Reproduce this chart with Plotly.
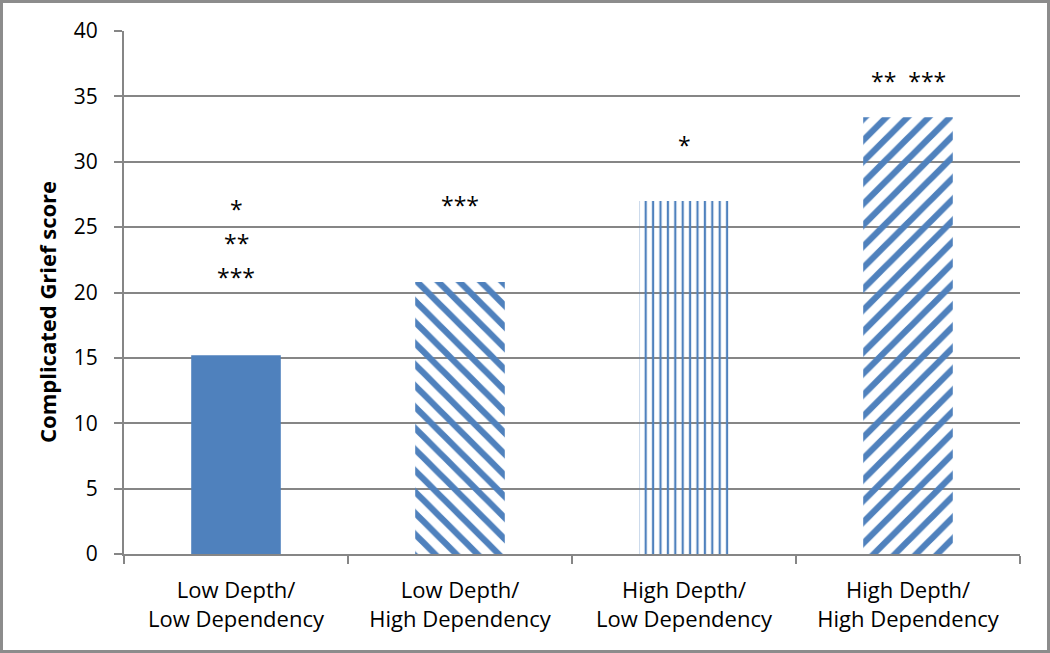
import plotly.graph_objects as go

categories = ["Low Depth/<br>Low Dependency", "Low Depth/<br>High Dependency",
              "High Depth/<br>Low Dependency", "High Depth/<br>High Dependency"]
values = [15.2, 20.8, 27.0, 33.4]
patterns = ["", "\\", "|", "/"]
sig_labels = [["*", "**", "***"], ["***"], ["*"], ["**  ***"]]
sig_y = [[26.4, 23.8, 21.2], [26.7], [31.3], [36.2]]
y_ticks = [0, 5, 10, 15, 20, 25, 30, 35, 40]
y_title = "Complicated Grief score"

BLUE = "#4F81BD"
GRAY = "#868686"
FONT = "'Open Sans', sans-serif"

n = len(categories)
fig = go.Figure()
fig.add_trace(go.Bar(
    x=categories, y=values, width=0.4,
    marker=dict(
        color=[BLUE] * n,
        line=dict(width=0),
        pattern=dict(shape=patterns, fgcolor=[BLUE] * n, bgcolor=["white"] * n,
                     fgopacity=1,
                     size=[8, 15, 7.4, 15], solidity=[0.5, 0.42, 0.3, 0.42],
                     fillmode="replace"),
    ),
    showlegend=False,
))

pw, ph = 896, 523
ml, mr, mt, mb = 124, 30, 31, 99

annotations = []
for cat, labs, ys in zip(categories, sig_labels, sig_y):
    for lab, yy in zip(labs, ys):
        annotations.append(dict(x=cat, y=yy, text=lab, showarrow=False,
                                font=dict(size=23, color="black", family=FONT),
                                xanchor="center", yanchor="middle"))
annotations.append(dict(xref="paper", yref="paper", x=(47 - ml) / pw, y=(554 - 312) / ph,
                        text="<b>" + y_title + "</b>", textangle=-90, showarrow=False,
                        font=dict(size=22, color="black", family=FONT),
                        xanchor="center", yanchor="middle"))

fig.add_shape(type="rect", xref="paper", yref="paper",
              x0=-(ml - 1.5) / pw, x1=1 + (mr - 1.5) / pw,
              y0=-(mb - 1.5) / ph, y1=1 + (mt - 1.5) / ph,
              line=dict(color="#8C8C8C", width=3), layer="above")

fig.update_layout(
    width=1050, height=653,
    margin=dict(l=ml, r=mr, t=mt, b=mb),
    plot_bgcolor="white", paper_bgcolor="white",
    font=dict(family=FONT, size=21, color="black"),
    annotations=annotations,
    bargap=0.6,
)
fig.update_xaxes(
    showline=True, linecolor=GRAY, linewidth=2,
    ticks="outside", tickson="boundaries", ticklen=8, tickcolor=GRAY, tickwidth=2,
    tickfont=dict(size=22, family=FONT), showgrid=False,
    ticklabelstandoff=16, automargin=False,
)
fig.update_yaxes(
    range=[0, 40], tickvals=y_ticks, showline=True, linecolor=GRAY, linewidth=2,
    ticks="outside", ticklen=8, tickcolor=GRAY, tickwidth=2,
    showgrid=True, gridcolor=GRAY, gridwidth=2, zeroline=False,
    tickfont=dict(size=21, family=FONT), ticklabelstandoff=12, automargin=False,
)

fig.write_html("out.html", config={"displayModeBar": False})
with open("out.html", encoding="utf-8") as f:
    html = f.read()
html = html.replace("<body>", '<body style="margin:0;padding:0">', 1)
with open("out.html", "w", encoding="utf-8") as f:
    f.write(html)
